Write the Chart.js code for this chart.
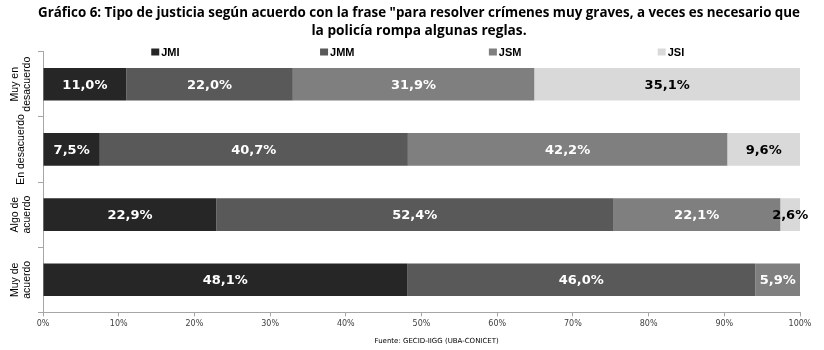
<!DOCTYPE html>
<html>
<head>
<meta charset="utf-8">
<script src="https://cdn.jsdelivr.net/npm/chart.js@4.4.1/dist/chart.umd.min.js"></script>
<style>
  html, body { margin: 0; padding: 0; background: #fff; }
  #contenedor { width: 824px; height: 350px; }
</style>
</head>
<body>
<div id="contenedor"><canvas id="grafico6"></canvas></div>
<script>
// Categorías (eje vertical) y porcentajes por tipo de justicia
const categorias = [['Muy en', 'desacuerdo'], ['En desacuerdo'], ['Algo de', 'acuerdo'], ['Muy de', 'acuerdo']];
const series = ['JMI', 'JMM', 'JSM', 'JSI'];
const jmi = [11.0, 7.5, 22.9, 48.1];
const jmm = [22.0, 40.7, 52.4, 46.0];
const jsm = [31.9, 42.2, 22.1, 5.9];
const jsi = [35.1, 9.6, 2.6, 0];
const colores = ['#262626', '#595959', '#7f7f7f', '#d9d9d9'];
const colorTexto = ['#ffffff', '#ffffff', '#ffffff', '#000000'];
const titulo = ['Gráfico 6: Tipo de justicia según acuerdo con la frase "para resolver crímenes muy graves, a veces es necesario que',
                'la policía rompa algunas reglas.'];
const fuente = 'Fuente: GECID-IIGG (UBA-CONICET)';

const valores = [jmi, jmm, jsm, jsi];

const fmt = v => v.toFixed(1).replace('.', ',') + '%';

// etiquetas de valor dentro de cada segmento
const etiquetas = {
  id: 'etiquetas',
  afterDatasetsDraw(chart) {
    const ctx = chart.ctx;
    ctx.save();
    ctx.font = 'bold 13px "DejaVu Sans"';
    ctx.textAlign = 'center';
    ctx.textBaseline = 'middle';
    chart.data.datasets.forEach((ds, i) => {
      chart.getDatasetMeta(i).data.forEach((bar, j) => {
        const v = ds.data[j];
        if (!v) return;
        ctx.fillStyle = colorTexto[i];
        ctx.fillText(fmt(v), (bar.x + bar.base) / 2, bar.y + 1);
      });
    });
    ctx.restore();
  }
};

// leyenda repartida a lo ancho, nombres de categoría girados y fuente al pie
const extras = {
  id: 'extras',
  afterDraw(chart) {
    const ctx = chart.ctx;
    const a = chart.chartArea;
    ctx.save();
    ctx.textBaseline = 'middle';
    ctx.font = 'bold 11px "Liberation Sans Narrow", "Liberation Sans"';
    series.forEach((s, i) => {
      const x = a.left + a.width * (0.143 + i * 0.223);
      const y = 52;
      ctx.fillStyle = colores[i];
      ctx.fillRect(x, y - 3.5, 8, 7);
      ctx.fillStyle = '#000';
      ctx.textAlign = 'left';
      ctx.fillText(s, x + 10, y + 1);
    });

    const ys = chart.scales.y;
    ctx.font = '10.5px "Liberation Sans Narrow", "Liberation Sans"';
    ctx.fillStyle = '#000';
    ctx.textAlign = 'center';
    categorias.forEach((lab, i) => {
      const cy = ys.getPixelForValue(i);
      ctx.save();
      ctx.translate(0, cy);
      ctx.rotate(-Math.PI / 2);
      const n = lab.length;
      lab.forEach((t, k) => {
        ctx.fillText(t, 0, 21 - (n - 1) * 6 + k * 12);
      });
      ctx.restore();
    });

    ctx.font = '7px "DejaVu Sans"';
    ctx.fillStyle = '#000';
    ctx.textAlign = 'center';
    ctx.fillText(fuente, a.left + a.width * 0.52, 341);
    ctx.restore();
  }
};

new Chart(document.getElementById('grafico6'), {
  type: 'bar',
  data: {
    labels: categorias,
    datasets: series.map((s, i) => ({
      label: s,
      data: valores[i],
      backgroundColor: colores[i],
      borderWidth: 0,
      barPercentage: 0.5,
      categoryPercentage: 1
    }))
  },
  options: {
    indexAxis: 'y',
    responsive: true,
    maintainAspectRatio: false,
    animation: false,
    layout: { padding: { left: 38, right: 24, top: 0, bottom: 18 } },
    plugins: {
      legend: { display: false },
      tooltip: { enabled: false },
      title: {
        display: true,
        text: titulo,
        color: '#000',
        font: { family: '"Open Sans"', size: 13.7, weight: 'bold', lineHeight: 1.3 },
        padding: { top: 4, bottom: 12 }
      }
    },
    scales: {
      x: {
        stacked: true,
        min: 0,
        max: 100,
        ticks: {
          stepSize: 10,
          callback: v => v + '%',
          color: '#404040',
          font: { family: '"DejaVu Sans"', size: 8 },
          padding: 3
        },
        grid: { drawOnChartArea: false, tickLength: 4, color: '#a6a6a6' },
        border: { color: '#a6a6a6' }
      },
      y: {
        stacked: true,
        ticks: { display: false },
        grid: { drawOnChartArea: false, tickLength: 5, color: '#a6a6a6', offset: true },
        border: { color: '#a6a6a6' }
      }
    }
  },
  plugins: [etiquetas, extras]
});
</script>
</body>
</html>
